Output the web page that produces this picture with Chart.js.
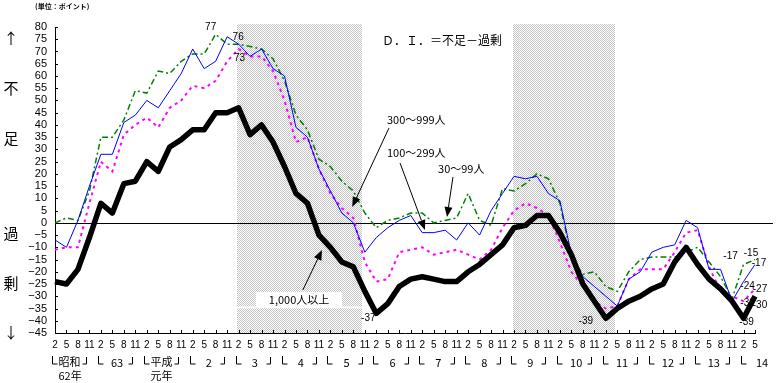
<!DOCTYPE html>
<html>
<head>
<meta charset="utf-8">
<script src="https://cdn.jsdelivr.net/npm/chart.js@4.4.1/dist/chart.umd.min.js"></script>
<style>
html,body{margin:0;padding:0;background:#fff;overflow:hidden}
canvas{display:block}
</style>
</head>
<body>
<canvas id="diChart" width="777" height="383"></canvas>
<script>
// =====================================
// D.I. (不足－過剰) by company size
// quarterly: Feb / May / Aug / Nov, 1987 - May 2002
// =====================================

const monthTicks=["2","5","8","11"];
const yearNames=["昭和","63","平成","2","3","4","5","6","7","8","9","10","11","12","13","14"];
const yearSubs=["62年","","元年","","","","","","","","","","","","",""];

// 1,000人以上
const di1000=[-24,-25,-19,-6,8,4,16,17,25,21,31,34,38,38,45,45,47,36,40,33,23,12,8,-5,-10,-16,-18,-28,-37,-33,-26,-23,-22,-23,-24,-24,-20,-17,-13,-9,-2,-1,3,3,-4,-13,-25,-32,-39,-35,-32,-30,-27,-25,-16,-10,-17,-23,-27,-32,-39,-30];
// 300～999人
const di300=[-11,-10,-10,8,25,21,36,40,43,39,47,50,56,55,58,66,71,68,68,62,50,33,35,22,12,6,2,-16,-24,-23,-12,-11,-10,-13,-12,-11,-13,-15,-11,-2,5,8,6,3,-8,-20,-26,-32,-35,-34,-23,-19,-19,-19,-12,-4,-3,-18,-28,-30,-32,-27];
// 100～299人
const di100=[-7,-10,1,15,28,28,41,44,50,47,54,61,71,63,66,76,73,68,71,63,60,39,35,22,13,4,0,-12,-6,-2,1,3,-4,-4,-3,-7,0,-5,5,12,19,18,19,12,9,-13,-22,-26,-30,-34,-23,-20,-12,-10,-9,1,-2,-19,-19,-32,-24,-17];
// 30～99人
const di30=[0,2,1,13,35,35,42,54,53,62,61,66,69,69,77,73,73,72,71,67,58,44,38,26,23,17,13,4,-2,1,2,4,4,0,1,2,12,1,-1,14,13,16,20,18,8,-14,-21,-20,-26,-28,-20,-15,-14,-14,-14,-12,-10,-16,-22,-31,-17,-15];

// shaded periods (quarter index)
const recessions=[[15.85,26.75],[39.9,48.8]];

const quarterLabels=yearNames.flatMap((y,k)=>k===yearNames.length-1?monthTicks.slice(0,2):monthTicks);

// =======================================
// helpers
// =======================================

function px(chart,i){return chart.scales.x.getPixelForValue(i);}
function py(chart,v){return chart.scales.y.getPixelForValue(v);}

function checker(ctx){
    const c=document.createElement("canvas");
    c.width=2;c.height=2;
    const g=c.getContext("2d");
    g.fillStyle="#fff";g.fillRect(0,0,2,2);
    g.fillStyle="#c4c4c4";g.fillRect(0,0,1,1);g.fillRect(1,1,1,1);
    return ctx.createPattern(c,"repeat");
}

function arrow(ctx,x1,y1,x2,y2){
    const a=Math.atan2(y2-y1,x2-x1);
    const L=10,W=4;
    ctx.strokeStyle="#000";ctx.lineWidth=1;
    ctx.beginPath();ctx.moveTo(x1,y1);ctx.lineTo(x2-Math.cos(a)*L,y2-Math.sin(a)*L);ctx.stroke();
    ctx.fillStyle="#000";
    ctx.beginPath();
    ctx.moveTo(x2,y2);
    ctx.lineTo(x2-Math.cos(a)*L-Math.sin(a)*W,y2-Math.sin(a)*L+Math.cos(a)*W);
    ctx.lineTo(x2-Math.cos(a)*L+Math.sin(a)*W,y2-Math.sin(a)*L-Math.cos(a)*W);
    ctx.closePath();ctx.fill();
}

// =======================================
// background plugin: shading, zero line, inner ticks
// =======================================

const backPlugin={
    id:"back",
    beforeDatasetsDraw(chart){
        const ctx=chart.ctx,a=chart.chartArea;
        ctx.save();
        ctx.fillStyle=checker(ctx);
        recessions.forEach(r=>{
            const x1=Math.round(px(chart,r[0])),x2=Math.round(px(chart,r[1]));
            ctx.fillRect(x1,a.top-3,x2-x1,a.bottom-a.top+3);
        });
        // label box inside first band
        ctx.fillStyle="#fff";
        ctx.fillRect(px(chart,17.52),py(chart,-28.3),px(chart,25.01)-px(chart,17.52),py(chart,-34.4)-py(chart,-28.3));
        ctx.fillRect(px(chart,recessions[0][0]),py(chart,-34.1),px(chart,recessions[0][1])-px(chart,recessions[0][0]),2);
        // zero line
        const y0=Math.round(py(chart,0))+0.5;
        ctx.strokeStyle="#000";ctx.lineWidth=1;
        ctx.beginPath();ctx.moveTo(a.left,y0);ctx.lineTo(a.right+18,y0);ctx.stroke();
        // inner ticks
        ctx.beginPath();
        for(let v=-45;v<=80;v+=5){
            const y=Math.round(py(chart,v))+0.5;
            ctx.moveTo(a.left,y);ctx.lineTo(a.left+3,y);
        }
        for(let i=0;i<quarterLabels.length;i++){
            const x=Math.round(px(chart,i))+0.5;
            ctx.moveTo(x,a.bottom);ctx.lineTo(x,a.bottom-3);
        }
        ctx.stroke();
        ctx.restore();
    },
    afterDatasetsDraw(chart){
        const ctx=chart.ctx;
        ctx.save();
        ctx.fillStyle="#000";
        ctx.textBaseline="middle";

        // title
        ctx.font='12px "Noto Sans CJK JP"';
        ctx.textAlign="left";
        ctx.fillText("Ｄ．Ｉ．＝不足－過剰",px(chart,28.5),py(chart,74.7));

        // series notes
        ctx.font='11px "Noto Sans CJK JP"';
        ctx.fillText("300～999人",px(chart,28.93),py(chart,42));
        ctx.fillText("100～299人",px(chart,28.93),py(chart,28.7));
        ctx.fillText("30～99人",px(chart,33.38),py(chart,22));
        ctx.textAlign="center";
        ctx.fillText("1,000人以上",px(chart,21.27),py(chart,-31.3));

        arrow(ctx,px(chart,29.1),py(chart,38.7),px(chart,25.9),py(chart,6.5));
        arrow(ctx,px(chart,30.07),py(chart,24.4),px(chart,32.24),py(chart,-2.9));
        arrow(ctx,px(chart,34.68),py(chart,18.7),px(chart,34.16),py(chart,2.4));
        arrow(ctx,px(chart,21.6),py(chart,-27.4),px(chart,23.27),py(chart,-11.1));

        // value labels [series, index, dx, dy]
        const notes=[
            [di30,14,-5,-7],
            [di100,15,11,0],
            [di30,16,1,14],
            [di1000,28,-8,5],
            [di1000,48,-20,3],
            [di30,60,-13,-8],
            [di100,60,4,5],
            [di300,60,4,2],
            [di1000,60,3,4],
            [di30,61,-4,-6],
            [di100,61,4,-1],
            [di300,61,5,0],
            [di1000,61,5,9]
        ];
        ctx.font='10px "Liberation Sans Narrow","Liberation Sans",sans-serif';
        notes.forEach(n=>{
            const v=n[0][n[1]];
            ctx.fillText(String(v),px(chart,n[1])+n[2],py(chart,v)+n[3]);
        });
        ctx.restore();
    },
    afterDraw(chart){
        const ctx=chart.ctx;
        ctx.save();
        ctx.fillStyle="#000";ctx.strokeStyle="#000";ctx.lineWidth=1;
        ctx.textBaseline="middle";

        // unit
        ctx.font='bold 7px "Noto Sans CJK JP"';
        ctx.textAlign="left";
        ctx.fillText("(単位：ポイント)",35,6);

        // side labels
        ctx.font='15px "Noto Sans CJK JP"';
        ctx.textAlign="center";
        [["↑",38],["不",88],["足",138],["過",233],["剰",283],["↓",332]].forEach(s=>ctx.fillText(s[0],11,s[1]));

        // year row
        const yb=364;
        yearNames.forEach((name,k)=>{
            const first=4*k,last=Math.min(4*k+3,quarterLabels.length-1);
            const xl=Math.round(px(chart,first))-2.5;
            ctx.beginPath();ctx.moveTo(xl,yb-8);ctx.lineTo(xl,yb);ctx.lineTo(xl+5,yb);ctx.stroke();
            if(k<yearNames.length-1){
                const xr=Math.round(px(chart,last))-2.5;
                ctx.beginPath();ctx.moveTo(xr-4,yb);ctx.lineTo(xr,yb);ctx.lineTo(xr,yb-7);ctx.stroke();
            }
            ctx.font='11px "Noto Sans CJK JP"';
            if(yearSubs[k]){
                ctx.textAlign="left";
                ctx.fillText(name,xl+6,yb-2);
                ctx.fillText(yearSubs[k],xl+6,yb+12);
            }else if(k===yearNames.length-1){
                ctx.textAlign="center";
                ctx.fillText(name,px(chart,61)+7,yb-1);
            }else{
                ctx.textAlign="center";
                ctx.fillText(name,px(chart,first+1.5)-1,yb-1);
            }
        });
        ctx.restore();
    }
};

// =======================================
// Chart
// =======================================

new Chart(document.getElementById("diChart"),{
    type:"line",
    data:{
        labels:quarterLabels,
        datasets:[
            {label:"1,000人以上",data:di1000,borderColor:"#000",borderWidth:5.5,borderJoinStyle:"round",pointRadius:0},
            {label:"100～299人",data:di100,borderColor:"#0000ff",borderWidth:1,pointRadius:0},
            {label:"30～99人",data:di30,borderColor:"#008000",borderWidth:1.5,borderDash:[6,3,2,3],pointRadius:0},
            {label:"300～999人",data:di300,borderColor:"#ff00ff",borderWidth:2,borderDash:[3,4],pointRadius:0}
        ]
    },
    options:{
        responsive:false,
        animation:false,
        devicePixelRatio:1,
        layout:{padding:{top:27,right:22,left:0,bottom:0}},
        plugins:{legend:{display:false},tooltip:{enabled:false}},
        scales:{
            x:{
                offset:false,
                grid:{display:true,drawOnChartArea:false,drawTicks:false,color:"transparent"},
                border:{display:true,color:"#000",width:1},
                ticks:{autoSkip:false,maxRotation:0,minRotation:0,padding:6,color:"#000",font:{family:"Liberation Sans",size:10}},
                afterFit(scale){scale.height=50;}
            },
            y:{
                min:-45,max:80,
                grid:{display:true,drawOnChartArea:false,drawTicks:false,color:"transparent"},
                border:{display:true,color:"#000",width:1},
                ticks:{stepSize:5,autoSkip:false,padding:8,color:"#000",font:{family:"Liberation Sans",size:11},
                    callback:v=>v<0?"−"+Math.abs(v):String(v)},
                afterFit(scale){scale.width=55;}
            }
        }
    },
    plugins:[backPlugin]
});
</script>
</body>
</html>
